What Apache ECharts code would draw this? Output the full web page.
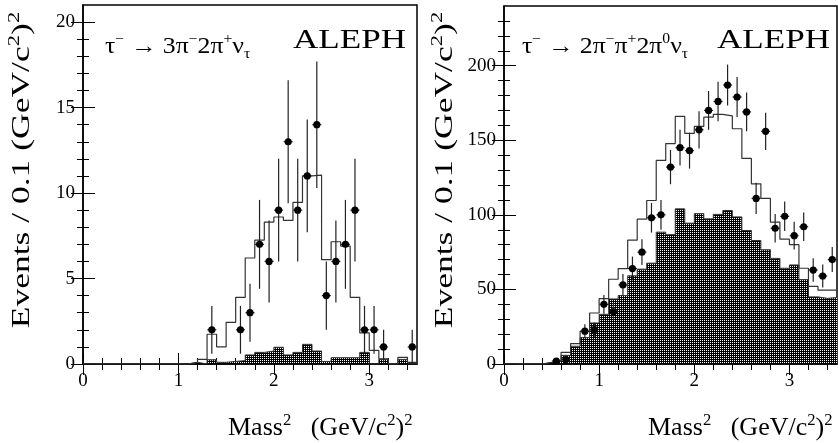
<!DOCTYPE html>
<html><head><meta charset="utf-8">
<script src="https://cdn.jsdelivr.net/npm/echarts@6/dist/echarts.min.js"></script>
<style>html,body{margin:0;padding:0;background:#fff}#c{width:838px;height:443px}</style>
</head><body><div id="c"></div>
<script>
// ---------- data (bin width 0.1 GeV^2, bins start at 0) ----------
const binWidth = 0.1;
// left panel: tau -> 3pi- 2pi+ nu
const leftMC = [0,0,0,0,0,0,0,0,0,0, 0,0.1,0.27,1.74,1.0,2.44,3.9,6.2,7.25,8.3, 8.6,8.4,9.45,11.0,11.05,6.1,7.15,6.9,3.9,1.82, 0.8,0.3,0,0.39,0.1];
const leftBkg = [0,0,0,0,0,0,0,0,0,0, 0,0.1,0,0.25,0.1,0.15,0.2,0.53,0.68,0.76, 0.98,0.53,0.68,1.15,0.76,0.15,0.37,0.37,0.37,0.68, 0,0.27,0,0.27,0.05];
const leftDataX = [1.35,1.65,1.75,1.85,1.95,2.05,2.15,2.25,2.35,2.45,2.55,2.65,2.75,2.85,2.95,3.05,3.15,3.45];
const leftDataY = [2,2,3,7,6,9,13,9,11,14,4,6,7,9,2,2,1,1];
const leftDataErr = [1.4,1.4,1.7,2.6,2.4,3.0,3.6,3.0,3.3,3.7,2.0,2.4,2.6,3.0,1.4,1.4,1.0,1.0];
// right panel: tau -> 2pi- pi+ 2pi0 nu
const rightMC = [0,0,0,0,1,2,7.8,13.6,21.9,34.2, 43.8,56.8,64,83,97.1,109.6,136.5,147.8,166,154.6, 159.3,165.5,167.3,166.4,157.7,137.8,120.8,111,95.1,83.7, 80,64.2,52,49.5,49.5];
const rightBkg = [0,0,0,0,1.1,1.8,5.8,11.9,17.7,27.5, 33.3,43.6,45.9,59.1,63.6,67.6,88.4,86.7,104,94.4, 100.8,97.3,100.3,102.9,98.6,89.5,82.8,76.6,70.8,64.2, 66.4,56.6,45,44,44.6];
const rightDataX = [0.55,0.65,0.85,0.95,1.05,1.15,1.25,1.35,1.45,1.55,1.65,1.75,1.85,1.95,2.05,2.15,2.25,2.35,2.45,2.55,2.65,2.75,2.85,2.95,3.05,3.15,3.25,3.35,3.45];
const rightDataY = [2,3,22,23,40,35,53,64,75,98,100,132,145,143,157,170,176,187,179,169,111,156,91,99,86,92,63,59,70];
const rightDataErr = [1.4,1.7,4.7,4.8,6.3,5.9,7.3,8.0,8.7,9.9,10,11.5,12,12,12.5,13,13.3,13.7,13.4,13,10.5,12.5,9.5,9.9,9.3,9.6,7.9,7.7,8.4];
// ticks
const xMajor = [0,1,2,3];
const xMinor = [0.2,0.4,0.6,0.8,1.2,1.4,1.6,1.8,2.2,2.4,2.6,2.8,3.2,3.4];
const leftYMajor = [0,5,10,15,20];
const leftYMinor = [1,2,3,4,6,7,8,9,11,12,13,14,16,17,18,19];
const rightYMajor = [0,50,100,150,200];
const rightYMinor = [10,20,30,40,60,70,80,90,110,120,130,140,160,170,180,190,210,220,230];

// ---------- chart ----------
const SERIF = '"Liberation Serif","Times New Roman",serif';
const chart = echarts.init(document.getElementById('c'), null, {renderer: 'canvas'});

// checker pattern for the background histogram
const pc = document.createElement('canvas');
pc.width = 2; pc.height = 2;
const pctx = pc.getContext('2d');
pctx.fillStyle = '#000'; pctx.fillRect(0, 0, 2, 2);
pctx.fillStyle = '#fff'; pctx.fillRect(0, 0, 1, 1);
const pattern = {image: pc, repeat: 'repeat'};

function stepData(vals) {
  const d = vals.map((v, i) => [+(i * binWidth).toFixed(2), v]);
  d.push([+(vals.length * binWidth).toFixed(2), vals[vals.length - 1]]);
  return d;
}

const grids = [
  {left: 83, top: 5, width: 334, height: 359},
  {left: 504, top: 6, width: 333, height: 358}
];
const yMax = [21, 240];
const yMaj = [leftYMajor, rightYMajor];
const yMin = [leftYMinor, rightYMinor];

const xAxes = [], yAxes = [];
grids.forEach((g, gi) => {
  const base = {gridIndex: gi, type: 'value', min: 0, max: 3.5, splitLine: {show: false}};
  xAxes.push(Object.assign({}, base, {position: 'bottom',
    axisLine: {show: true, lineStyle: {color: '#000', width: 1.5}},
    axisTick: {show: true, inside: true, length: 11, customValues: xMajor, lineStyle: {color: '#000', width: 1}},
    axisLabel: {show: true, customValues: xMajor, margin: 8, fontSize: 19, fontFamily: SERIF, color: '#000'}}));
  xAxes.push(Object.assign({}, base, {position: 'bottom', axisLine: {show: false},
    axisTick: {show: true, inside: true, length: 6, customValues: xMinor, lineStyle: {color: '#000', width: 1}},
    axisLabel: {show: false}}));
  xAxes.push(Object.assign({}, base, {position: 'top', axisLine: {show: false},
    axisTick: {show: true, inside: true, length: 11, customValues: xMajor, lineStyle: {color: '#000', width: 1}},
    axisLabel: {show: false}}));
  xAxes.push(Object.assign({}, base, {position: 'top', axisLine: {show: false},
    axisTick: {show: true, inside: true, length: 6, customValues: xMinor, lineStyle: {color: '#000', width: 1}},
    axisLabel: {show: false}}));
  const yb = {gridIndex: gi, type: 'value', min: 0, max: yMax[gi], splitLine: {show: false}};
  yAxes.push(Object.assign({}, yb, {position: 'left',
    axisLine: {show: true, lineStyle: {color: '#000', width: 1.5}},
    axisTick: {show: true, inside: true, length: 12, customValues: yMaj[gi], lineStyle: {color: '#000', width: 1}},
    axisLabel: {show: true, customValues: yMaj[gi], margin: 8, fontSize: 19, fontFamily: SERIF, color: '#000'}}));
  yAxes.push(Object.assign({}, yb, {position: 'left', axisLine: {show: false},
    axisTick: {show: true, inside: true, length: 6, customValues: yMin[gi], lineStyle: {color: '#000', width: 1}},
    axisLabel: {show: false}}));
  yAxes.push(Object.assign({}, yb, {position: 'right', axisLine: {show: false},
    axisTick: {show: true, inside: true, length: 12, customValues: yMaj[gi], lineStyle: {color: '#000', width: 1}},
    axisLabel: {show: false}}));
  yAxes.push(Object.assign({}, yb, {position: 'right', axisLine: {show: false},
    axisTick: {show: true, inside: true, length: 6, customValues: yMin[gi], lineStyle: {color: '#000', width: 1}},
    axisLabel: {show: false}}));
});

function errRender(params, api) {
  const x = api.value(0), y = api.value(1), e = api.value(2);
  const p = api.coord([x, y]);
  const t = api.coord([x, y + e]);
  const b = api.coord([x, Math.max(0, y - e)]);
  return {type: 'group', children: [
    {type: 'line', shape: {x1: p[0], y1: t[1], x2: p[0], y2: b[1]}, style: {stroke: '#222', lineWidth: 1.2}},
    {type: 'line', shape: {x1: p[0] - 4.5, y1: p[1], x2: p[0] + 4.5, y2: p[1]}, style: {stroke: '#222', lineWidth: 1.2}},
    {type: 'circle', shape: {cx: p[0], cy: p[1], r: 3.6}, style: {fill: '#000'}}
  ]};
}

const panels = [
  {mc: leftMC, bkg: leftBkg, dx: leftDataX, dy: leftDataY, de: leftDataErr},
  {mc: rightMC, bkg: rightBkg, dx: rightDataX, dy: rightDataY, de: rightDataErr}
];
const series = [];
panels.forEach((p, gi) => {
  const xi = gi * 4, yi = gi * 4;
  series.push({type: 'line', xAxisIndex: xi, yAxisIndex: yi, step: 'end', symbol: 'none', z: 2,
    data: stepData(p.bkg), lineStyle: {color: '#333', width: 1}, areaStyle: {color: pattern, opacity: 1}});
  series.push({type: 'line', xAxisIndex: xi, yAxisIndex: yi, step: 'end', symbol: 'none', z: 3,
    data: stepData(p.mc), lineStyle: {color: '#333', width: 1.2}});
  series.push({type: 'custom', xAxisIndex: xi, yAxisIndex: yi, z: 4, renderItem: errRender,
    data: p.dx.map((v, i) => [v, p.dy[i], p.de[i]])});
});

function txt(x, y, text, size, opts) {
  const s = Math.round(size * 0.62);
  const fam = (opts && opts.family) || SERIF;
  const rich = {
    sup: {fontSize: s, fontFamily: fam, verticalAlign: 'top', lineHeight: s, fill: '#000'},
    sub: {fontSize: s, fontFamily: fam, verticalAlign: 'bottom', lineHeight: s, fill: '#000'}
  };
  return Object.assign({type: 'text', x: x, y: y, z: 10, style: {
    text: text, fontSize: size, fontFamily: fam, fill: '#000', lineHeight: Math.round(size * 1.25),
    textAlign: (opts && opts.align) || 'left', textVerticalAlign: 'middle', rich: rich}}, opts && opts.el);
}
const yTitle = 'Events / 0.1 (GeV/c{sup|2}){sup|2}';
const xTitle = 'Mass{sup|2}   (GeV/c{sup|2}){sup|2}';
const graphics = [
  txt(22, 170, yTitle, 25, {align: 'center', el: {rotation: Math.PI / 2, scaleX: 1.42}}),
  txt(445, 170, yTitle, 25, {align: 'center', el: {rotation: Math.PI / 2, scaleX: 1.42}}),
  txt(228, 428, xTitle, 25, {el: {scaleX: 1.04}}),
  txt(648, 428, xTitle, 25, {el: {scaleX: 1.04}}),
  txt(105, 47, 'τ{sup|−} → 3π{sup|−}2π{sup|+}ν{sub|τ}', 23, {el: {scaleX: 1.12}}),
  txt(522, 47, 'τ{sup|−} → 2π{sup|−}π{sup|+}2π{sup|0}ν{sub|τ}', 23, {el: {scaleX: 1.12}}),
  txt(293, 41, 'ALEPH', 27, {el: {scaleX: 1.3}}),
  txt(717, 41, 'ALEPH', 27, {el: {scaleX: 1.3}})
];

chart.setOption({
  animation: false,
  backgroundColor: '#fff',
  grid: grids.map(g => Object.assign({show: true, borderColor: '#000', borderWidth: 1.5, containLabel: false}, g)),
  xAxis: xAxes,
  yAxis: yAxes,
  series: series,
  graphic: graphics
});
</script></body></html>
